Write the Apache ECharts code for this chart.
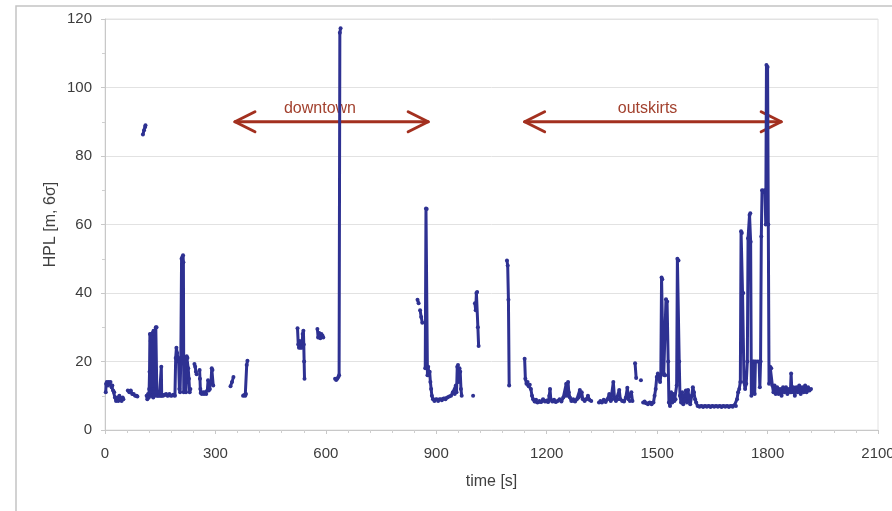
<!DOCTYPE html>
<html>
<head>
<meta charset="utf-8">
<title>HPL over time</title>
<script src="https://cdn.jsdelivr.net/npm/echarts@6/dist/echarts.min.js"></script>
<style>
  html, body { margin: 0; padding: 0; background: #fff; }
  #chart { width: 892px; height: 511px; }
</style>
</head>
<body>
<div id="chart"></div>
<script>
  // time stamps [s] and HPL values [m]; null marks a gap in the trace
  const timeS = [
    2, 3, 5, 8, 10, 13, 15, 18, 20, 22, 25, 27, 30, 33, 36, 39, 42, 45, 48, 50, 55,
    62, 66, 70, 74, 78, 82, 86, 88, 95,
    103, 106, 109, 110, 111,
    113, 115, 117, 119, 120, 121, 122, 123, 124, 125, 126, 127, 128, 129, 130, 131, 132, 133, 134, 135, 136, 138, 140,
    141, 144, 148, 152, 153, 154, 158, 162, 166, 170, 175, 180, 185, 190, 192, 194, 196, 198, 200, 202, 204, 206,
    208, 210, 212, 213, 214, 217, 220, 222, 224, 226, 228, 230, 232, 238,
    243, 245, 247, 249, 253,
    257, 258, 259, 260, 263, 266, 269, 272, 275, 278, 280, 282, 285, 288, 290, 292, 294, 300,
    341, 345, 349, 360,
    375, 378, 381, 383, 385, 387, 400,
    523, 525, 527, 529, 531, 533, 535, 537, 539, 540, 541, 542, 560,
    577, 579, 582, 585, 588, 591, 593, 600,
    625, 628, 631, 634, 636, 638, 640, 700,
    849, 852, 854,
    856, 859, 862, 866,
    870, 872, 874, 876, 878, 880, 882, 884, 886, 888, 891, 895, 900, 905, 910, 915, 920, 925, 930, 935, 940, 945,
    950, 953, 955, 957, 959, 961, 963, 965, 967, 969, 985,
    1000, 1002,
    1005, 1007, 1009, 1011, 1013, 1015, 1050,
    1092, 1094, 1096, 1098, 1120,
    1140, 1142, 1145, 1148, 1151, 1154, 1157, 1160, 1163, 1167, 1171, 1175, 1180, 1185, 1190, 1195, 1200, 1204,
    1207, 1209, 1211, 1215, 1220, 1225, 1230, 1235, 1240, 1245, 1250, 1253, 1256, 1258, 1260, 1263, 1267, 1272,
    1277, 1282, 1287, 1290, 1292, 1295, 1298, 1303, 1308, 1312, 1316, 1321, 1330,
    1342, 1346, 1350, 1355, 1360, 1365, 1370, 1374, 1378, 1381, 1384, 1388, 1393, 1397, 1400, 1405, 1410, 1415,
    1419, 1422, 1426, 1430, 1433, 1436,
    1440, 1443, 1450,
    1456, 1459,
    1462, 1466, 1470, 1475, 1480, 1485, 1490, 1493, 1496, 1499, 1502, 1505, 1508, 1510, 1512, 1514, 1516, 1518,
    1520, 1522, 1524, 1527, 1530, 1532, 1535, 1538, 1541, 1544, 1547, 1550, 1553, 1555, 1558, 1560, 1562, 1565,
    1568, 1571, 1575, 1578, 1581, 1584, 1587, 1590, 1594, 1597, 1600, 1603, 1606, 1610, 1615, 1620, 1625, 1630,
    1635, 1640, 1645, 1650, 1655, 1660, 1665, 1670, 1675, 1680, 1685, 1690, 1695, 1700, 1705, 1710, 1714, 1717,
    1720, 1723, 1726, 1728, 1730, 1732, 1734, 1736, 1739, 1742, 1745, 1747, 1749, 1751, 1753, 1754, 1756, 1758,
    1760, 1763, 1765, 1767, 1772, 1777, 1779, 1781, 1783, 1785, 1789, 1793, 1795, 1797, 1800, 1802, 1804, 1807,
    1810, 1813, 1816, 1819, 1822, 1826, 1830, 1834, 1838, 1842, 1846, 1850, 1854, 1858, 1862, 1864, 1866, 1870,
    1874, 1878, 1882, 1886, 1890, 1894, 1898, 1902, 1906, 1910, 1914, 1918
  ];
  const hplM = [
    11, 13.5, 14, 13, 14, 13.5, 14, 12.5, 13, 11.5, 11, 9.5, 8.5, 9.5, 8.5, 10, 9, 8.5, 9.5, 9, null,
    11.5, 11, 11.5, 10.5, 10.5, 10, 10, 9.8, null,
    86.3, 87.5, 88.5, 89, null,
    10, 9, 10.5, 9.5, 12, 17, 28, 11, 26, 10, 28, 12, 27, 10, 28.5, 9.5, 29, 12, 28, 10, 29, 30, 30,
    10, 10, 10, 10, 18.5, 10, 10, 10.3, 10.5, 10, 10.5, 10, 10.3, 10, 21, 24, 22.5, 21, 20, 12, 11, 21,
    50, 50.5, 51, 49, 11, 12, 11, 21.5, 21, 18, 15, 11, 12, null,
    19.3, 18.5, 17, 16.3, null,
    17.5, 15, 12, 10.8, 10.5, 11, 10.5, 11, 10.5, 11.5, 14.5, 11.5, 12, 14, 18, 17.5, 13, null,
    12.8, 14, 15.5, null,
    10, 10.2, 10, 10.5, 19, 20.2, null,
    29.7, 25, 24, 26, 24, 25.5, 24, 28, 29, 25, 20, 15, null,
    29.5, 27, 28.3, 26.8, 28, 27.5, 27, null,
    15, 14.6, 15, 15.5, 16, 116, 117.3, null,
    38, 37, null,
    35, 33, 31.3, null,
    18, 64.7, 64.5, 16, 18.5, 16, 17, 14, 12, 10, 9, 8.5, 9, 8.5, 9, 8.7, 9.2, 9, 9.5, 9.8, 10, 11,
    10.5, 13, 11, 18.5, 19, 14, 18, 17, 12, 10, null,
    10, null,
    37, 35, 40, 40.3, 30, 24.5, null,
    49.5, 48, 38, 13, null,
    20.8, 15, 13.5, 14, 12.8, 13.2, 12, 10, 9, 8.3, 8.8, 8, 8.5, 8.2, 9, 8.3, 8.6, 8.2,
    10, 12, 9, 8.3, 8.8, 8.2, 8.5, 9, 8.3, 9.5, 10, 13.5, 10, 14, 11, 9.5, 8.5, 9,
    8.3, 9, 9.5, 11.7, 10, 11, 9, 8.5, 9, 10, 8.8, 8.5, null,
    8, 8.5, 8, 8.8, 8.2, 9, 10.5, 8.5, 9, 14, 9.5, 8.5, 9, 11.7, 9, 8.5, 8.3, 9.5,
    12.3, 9, 8.5, 11, 8.5, null,
    19.5, 15.2, null,
    14.5, null,
    8, 8.3, 7.8, 7.5, 8, 7.5, 8, 10, 12, 15.5, 16.5, 15, 14, 16, 44.5, 44, 20, 16.5,
    16, 16, 38.2, 37.5, 20, 8, 7, 11, 8, 10.5, 8.5, 9, 13, 50, 49.5, 20, 10, 8,
    11, 7.5, 9, 11.5, 8, 11.7, 8.5, 7.5, 10, 12.5, 11, 9, 8, 7, 6.8, 7, 6.7, 7,
    6.8, 7, 6.7, 7, 6.8, 7, 6.8, 7, 6.7, 7, 6.8, 7, 6.7, 7, 6.8, 7.2, 7, 9,
    11, 12, 14, 58, 57.5, 40, 40, 14, 12, 13.5, 20, 56, 55.5, 62.8, 63.3, 55, 10, 11,
    20, 20, 10.5, 20, 20, 20, 12.5, 20, 56.5, 70, 69.5, 70, 60, 106.6, 106, 60, 13.5, 18.5,
    18, 13, 11, 13, 10.5, 12.5, 10.5, 12, 10, 12.5, 11, 12.5, 10.5, 12, 11, 16.5, 11, 12.5,
    10, 12.5, 11, 13, 10.5, 12.5, 11, 13, 11, 12.5, 11.5, 12
  ];

  // annotated stretches of the drive
  const regionNames = ['downtown', 'outskirts'];
  const regionStart = [353, 1140];
  const regionEnd = [878, 1837];
  const regionLevel = [90, 90];
  const regionLabelAt = [584, 1474];

  const xTicks = { min: 0, max: 2100, interval: 300 };
  const yTicks = { min: 0, max: 120, interval: 20 };

  const hplData = timeS.map((t, i) => [t, hplM[i] === null ? '-' : hplM[i]]);
  const regionData = regionNames.map((n, i) => [regionStart[i], regionEnd[i], regionLevel[i], regionLabelAt[i]]);

  const arrowColor = '#A3301F';
  const labelFont = '"Liberation Sans", Arial, sans-serif';

  const renderArrow = (params, api) => {
    const a = api.coord([api.value(0), api.value(2)]);
    const b = api.coord([api.value(1), api.value(2)]);
    const c = api.coord([api.value(3), api.value(2)]);
    const y = a[1];
    const head = 20;
    const half = 10;
    const stroke = { stroke: arrowColor, lineWidth: 3, fill: null, lineCap: 'round', lineJoin: 'round' };
    return {
      type: 'group',
      children: [
        { type: 'line', shape: { x1: a[0], y1: y, x2: b[0], y2: y }, style: stroke },
        { type: 'polyline', shape: { points: [[a[0] + head, y - half], [a[0], y], [a[0] + head, y + half]] }, style: stroke },
        { type: 'polyline', shape: { points: [[b[0] - head, y - half], [b[0], y], [b[0] - head, y + half]] }, style: stroke },
        {
          type: 'text',
          style: {
            text: regionNames[params.dataIndex],
            x: c[0],
            y: y - 13,
            fill: '#A2412E',
            fontSize: 16,
            fontFamily: labelFont,
            align: 'center',
            verticalAlign: 'middle'
          }
        }
      ]
    };
  };

  const chart = echarts.init(document.getElementById('chart'), null, { renderer: 'canvas' });

  const option = {
    animation: false,
    graphic: [
      {
        type: 'rect',
        shape: { x: 16, y: 6, width: 1000, height: 1000 },
        style: { fill: null, stroke: '#c4c4c4', lineWidth: 1.5 },
        silent: true,
        z: -10
      }
    ],
    grid: {
      left: 105,
      right: 14,
      top: 19,
      bottom: 81,
      outerBoundsMode: 'none',
      containLabel: false,
      show: true,
      borderColor: '#e2e2e2',
      borderWidth: 1
    },
    xAxis: {
      type: 'value',
      min: xTicks.min,
      max: xTicks.max,
      interval: xTicks.interval,
      name: 'time [s]',
      nameLocation: 'middle',
      nameGap: 44,
      nameMoveOverlap: false,
      nameTextStyle: { fontSize: 16, color: '#404040', fontFamily: labelFont },
      axisLine: { show: true, lineStyle: { color: '#c8c8c8', width: 1 } },
      axisTick: { show: true, length: 4, lineStyle: { color: '#c8c8c8' } },
      minorTick: { show: true, splitNumber: 5, length: 3, lineStyle: { color: '#cfcfcf' } },
      axisLabel: {
        fontSize: 15,
        color: '#3c3c3c',
        fontFamily: labelFont,
        margin: 16,
        formatter: (v) => String(v)
      },
      splitLine: { show: false }
    },
    yAxis: {
      type: 'value',
      min: yTicks.min,
      max: yTicks.max,
      interval: yTicks.interval,
      name: 'HPL [m, 6σ]',
      nameLocation: 'middle',
      nameGap: 46,
      nameMoveOverlap: false,
      nameTextStyle: { fontSize: 16, color: '#404040', fontFamily: labelFont },
      axisLine: { show: true, lineStyle: { color: '#c8c8c8', width: 1 } },
      axisTick: { show: true, length: 4, lineStyle: { color: '#c8c8c8' } },
      minorTick: { show: true, splitNumber: 2, length: 3, lineStyle: { color: '#cfcfcf' } },
      axisLabel: { fontSize: 15, color: '#3c3c3c', fontFamily: labelFont, margin: 13 },
      splitLine: { show: true, lineStyle: { color: '#e2e2e2', width: 1 } }
    },
    series: [
      {
        type: 'custom',
        name: 'regions',
        renderItem: renderArrow,
        data: regionData,
        encode: { x: [0, 1, 3], y: 2 },
        clip: false,
        silent: true,
        z: 1
      },
      {
        type: 'line',
        name: 'HPL',
        data: hplData,
        connectNulls: false,
        symbol: 'circle',
        symbolSize: 4,
        showAllSymbol: true,
        itemStyle: { color: '#2E3192' },
        lineStyle: { color: '#2E3192', width: 3 },
        z: 3
      }
    ]
  };

  chart.setOption(option);
  window.addEventListener('resize', () => chart.resize());
</script>
</body>
</html>
